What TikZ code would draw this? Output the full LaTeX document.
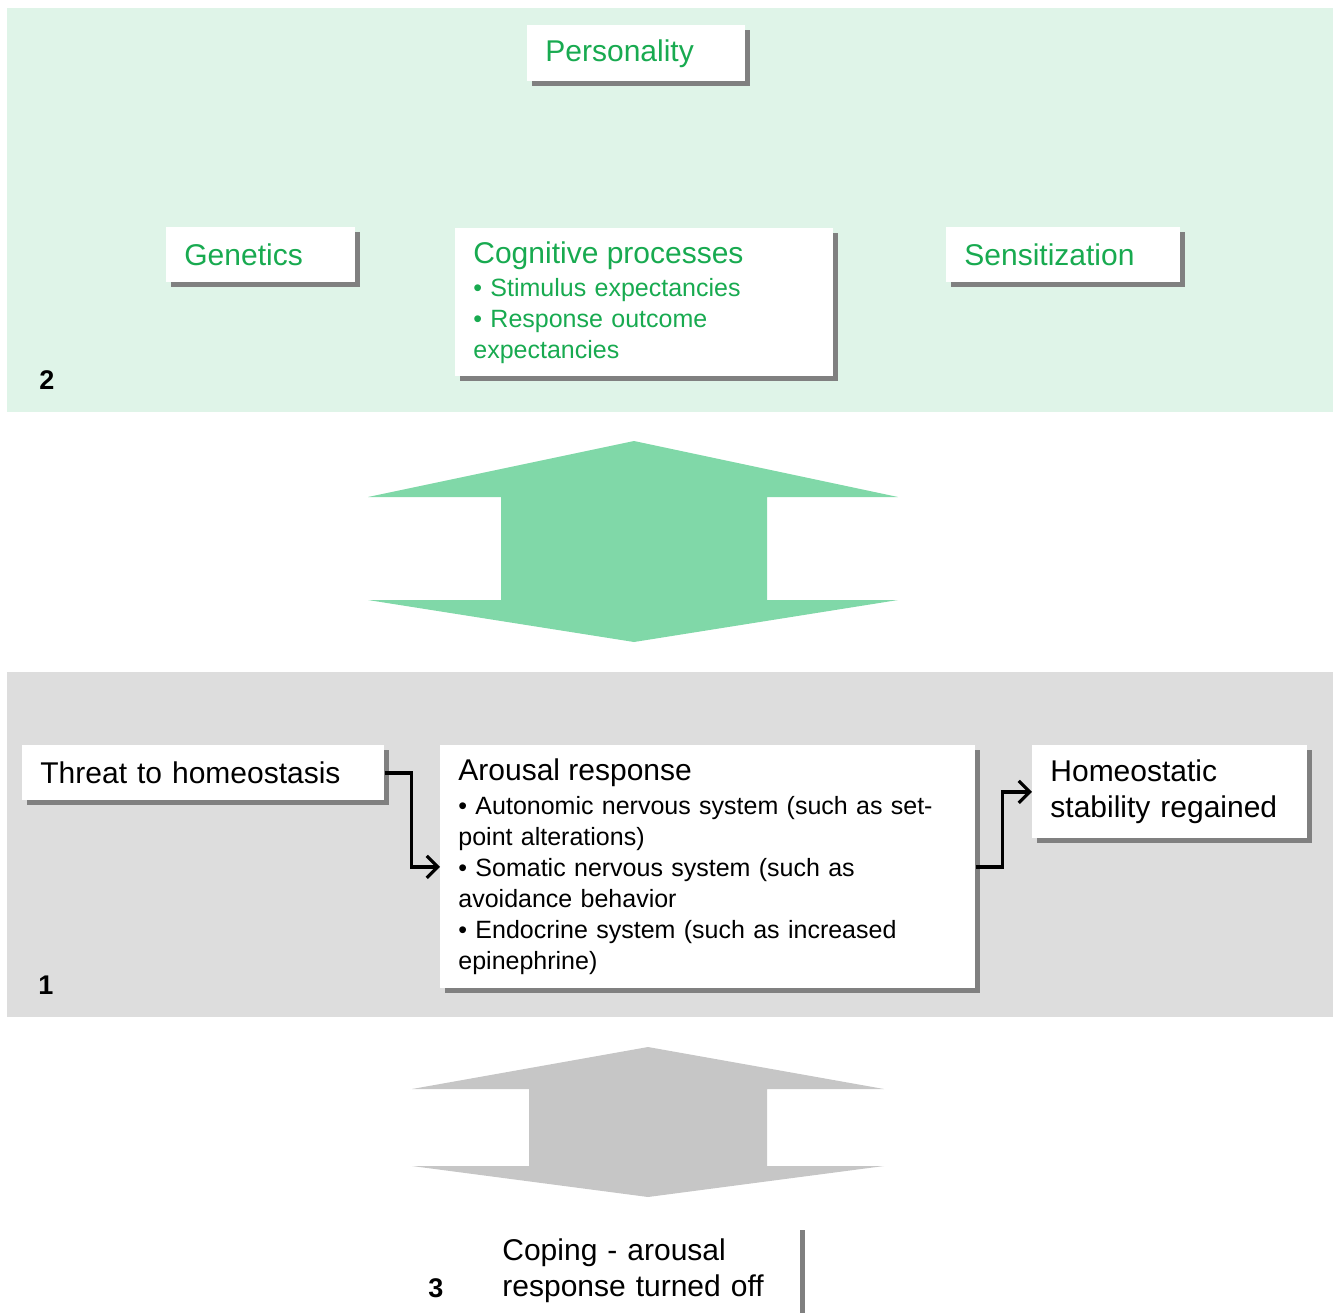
\documentclass[tikz,border=0pt]{standalone}
\usepackage{fontspec}
\setmainfont{Liberation Sans}
\usetikzlibrary{shadows,arrows.meta}

\definecolor{panelgreen}{RGB}{223,244,232}
\definecolor{panelgray}{RGB}{221,221,221}
\definecolor{arrowgreen}{RGB}{128,216,168}
\definecolor{arrowgray}{RGB}{198,198,198}
\definecolor{textgreen}{RGB}{24,170,80}
\definecolor{shadowgray}{RGB}{128,128,128}

\newcommand{\cardhead}{\fontsize{15}{18}\selectfont}
\newcommand{\carditem}{\fontsize{12.5}{15.5}\selectfont}

\tikzset{
  card/.style={fill=white, anchor=north west, inner xsep=9pt, inner ysep=0pt, align=left,
    drop shadow={shadow xshift=2.5pt, shadow yshift=-2.5pt, fill=shadowgray, opacity=1}},
  panelnum/.style={font=\fontsize{13.5}{16}\selectfont\bfseries},
  link/.style={line width=1.6pt, -{Straight Barb[length=5.5pt,width=11pt,line width=1.6pt]}},
}

\begin{document}
\begin{tikzpicture}[x=0.5pt, y=-0.5pt]
    \useasboundingbox (0,0) rectangle (1333,1312);
    \clip (0,0) rectangle (1333,1312);

    % Panel 2 (influences)
    \fill[panelgreen] (7,8) rectangle (1333,412);
    \node[card, text width=91pt, minimum height=28pt, text=textgreen, font=\cardhead] (personality) at (527,25) {Personality};
    \node[card, text width=76.5pt, minimum height=27.5pt, text=textgreen, font=\cardhead] (genetics) at (166,227) {Genetics};
    \node[card, text width=171pt, minimum height=74pt, text=textgreen, font=\carditem] (cognitive) at (455,228)
        {{\cardhead Cognitive processes}\\[1pt] • Stimulus expectancies\\ • Response outcome\\ expectancies};
    \node[card, text width=99pt, minimum height=27.5pt, text=textgreen, font=\cardhead] (sensitization) at (946,227) {Sensitization};
    \node[panelnum] (two) at (47,380) {2};

    % Double arrow between panel 2 and panel 1
    \fill[arrowgreen] (634,441) -- (898,497) -- (767,497) -- (767,600) -- (898,600) -- (634,642)
        -- (368,600) -- (501,600) -- (501,497) -- (368,497) -- cycle;

    % Panel 1 (arousal)
    \fill[panelgray] (7,672) rectangle (1333,1017);
    \node[card, text width=163pt, minimum height=27.5pt, font=\cardhead] (threat) at (22,745) {Threat to homeostasis};
    \node[card, text width=249.5pt, minimum height=121.5pt, font=\carditem] (arousal) at (440,745)
        {{\cardhead Arousal response}\\[1.5pt] • Autonomic nervous system (such as set-\\ point alterations)\\
         • Somatic nervous system (such as\\ avoidance behavior\\ • Endocrine system (such as increased\\ epinephrine)};
    \node[card, text width=119.5pt, minimum height=46.5pt, font=\cardhead] (homeostatic) at (1032,745)
        {Homeostatic\\ stability regained};
    \node[panelnum] (one) at (46,985) {1};
    \draw[link] (threat.east) -- ++(27,0) |- (arousal.west);
    \draw[link] (arousal.east) -- ++(27,0) |- (homeostatic.west);

    % Double arrow between panel 1 and panel 3
    \fill[arrowgray] (648,1047) -- (884,1089) -- (767,1089) -- (767,1166) -- (884,1166) -- (648,1197)
        -- (412,1166) -- (529,1166) -- (529,1089) -- (412,1089) -- cycle;

    % Panel 3 (coping)
    \node[card, text width=140pt, inner ysep=6.5pt, font=\cardhead] (coping) at (484,1225)
        {Coping - arousal\\ response turned off};
    \node[panelnum] (three) at (436,1288) {3};
\end{tikzpicture}
\end{document}
